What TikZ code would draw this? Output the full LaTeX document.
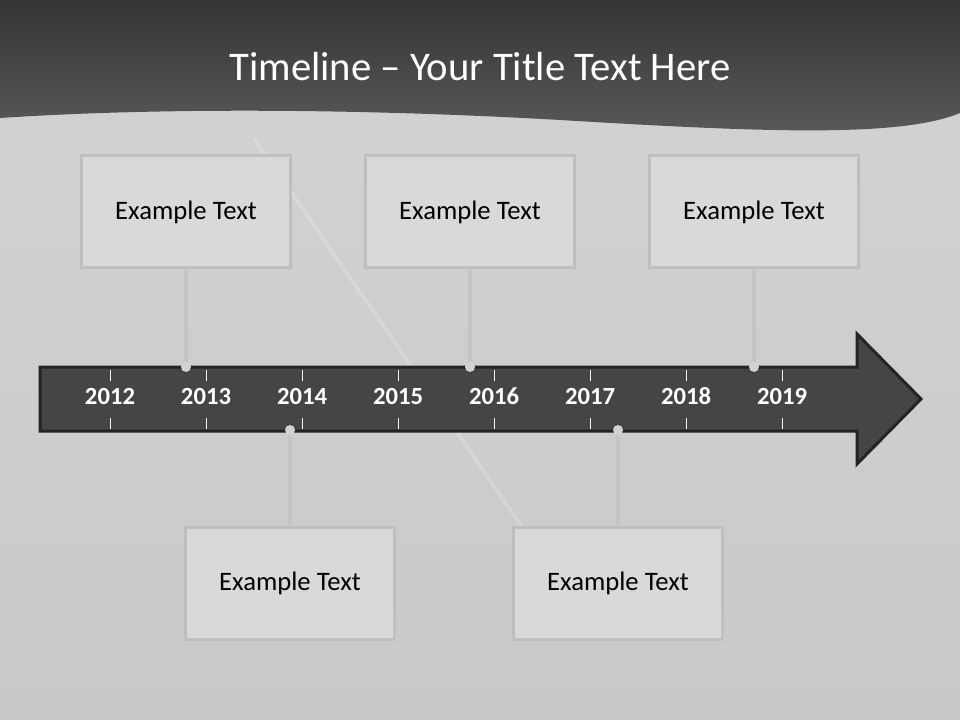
\documentclass[tikz,border=0pt]{standalone}
\usepackage{fontspec}
\setmainfont{Carlito}
\definecolor{headdark}{HTML}{353535}
\definecolor{headlight}{HTML}{5A5A5A}
\definecolor{slidetop}{HTML}{D3D3D3}
\definecolor{slidebottom}{HTML}{C9C9C9}
\definecolor{bandfill}{HTML}{454545}
\definecolor{bandline}{HTML}{242424}
\definecolor{boxfill}{HTML}{D9D9D9}
\definecolor{boxline}{HTML}{BFBFBF}
\definecolor{stemline}{HTML}{C4C4C4}
\definecolor{pinfill}{HTML}{D2D2D2}

\begin{document}
\begin{tikzpicture}
      [x=0.75pt, y=-0.75pt,
       event/.style={
           rectangle,
           fill=boxfill,
           draw=boxline, line width=2.25pt,
           minimum width=157pt, minimum height=84pt,
           inner sep=0pt,
           text=black,
           font=\fontsize{20}{24}\selectfont
         },
       year/.style={
           text=white,
           anchor=base,
           font=\bfseries\fontsize{18.5}{22}\selectfont
         },
       pin/.style={
           circle,
           fill=pinfill,
           inner sep=0pt, minimum size=7.5pt
         },
       stem/.style={
           draw=stemline, line width=3pt
         },
       ]
    \useasboundingbox (0,0) rectangle (960,720);

    % slide background and header
    \shade [top color=slidetop, bottom color=slidebottom] (0,0) rectangle (960,720);
    \draw [white, opacity=0.18, line width=3pt, line cap=round] (255,140) -- (545,560);
    \shade [top color=headdark, bottom color=headlight]
      (0,0) -- (960,0) -- (960,113)
      .. controls (900,138) and (760,132) .. (560,120)
      .. controls (350,108) and (150,108) .. (0,118) -- cycle;

    \node [text=white, font=\fontsize{30.5}{36}\selectfont] (title) at (480,67)
      {Timeline -- Your Title Text Here};

    % timeline arrow
    \draw [fill=bandfill, draw=bandline, line width=2.25pt, line join=miter]
      (40,367) -- (857,367) -- (857,334) -- (921,399) -- (857,464)
      -- (857,431) -- (40,431) -- cycle;

    \foreach \yr [count=\i from 0] in {2012,...,2019} {
      \draw [white, line width=0.75pt] (110+96*\i,370) -- (110+96*\i,381);
      \draw [white, line width=0.75pt] (110+96*\i,418) -- (110+96*\i,429);
      \node [year] (y\yr) at (110+96*\i,404) {\yr};
    }

    % events
    \node [event] (ev1) at (186,212) {Example Text};
    \node [event] (ev2) at (470,212) {Example Text};
    \node [event] (ev3) at (754,212) {Example Text};
    \node [event] (ev4) at (290,583) {Example Text};
    \node [event] (ev5) at (618,583) {Example Text};

    \coordinate (p1) at (186,367);
    \coordinate (p2) at (470,367);
    \coordinate (p3) at (754,367);
    \coordinate (p4) at (290,430);
    \coordinate (p5) at (618,430);

    \path (ev1.south) edge [stem] (p1);
    \path (ev2.south) edge [stem] (p2);
    \path (ev3.south) edge [stem] (p3);
    \path (ev4.north) edge [stem] (p4);
    \path (ev5.north) edge [stem] (p5);

    \node [pin] (pin1) at (p1) {};
    \node [pin] (pin2) at (p2) {};
    \node [pin] (pin3) at (p3) {};
    \node [pin] (pin4) at (p4) {};
    \node [pin] (pin5) at (p5) {};

  \end{tikzpicture}
\end{document}
